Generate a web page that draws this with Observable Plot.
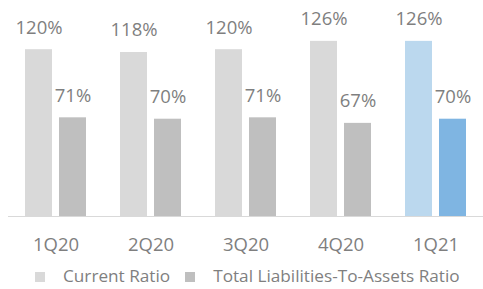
<!DOCTYPE html>
<html>
<head>
<meta charset="utf-8">
<script src="https://cdn.jsdelivr.net/npm/d3@7"></script>
<script src="https://cdn.jsdelivr.net/npm/@observablehq/plot@0.6"></script>
<style>
  html, body { margin: 0; padding: 0; background: #fff; }
  body { width: 483px; height: 289px; overflow: hidden; font-family: "Open Sans", sans-serif; }
  #chart svg { display: block; }
  #legend { display: flex; align-items: center; height: 24px; padding-top: 6px; margin-left: 35px; font-size: 17.2px; color: #7f7f7f; line-height: 24px; white-space: nowrap; }
  #legend .sw { width: 10px; height: 10px; display: inline-block; margin-top: 2px; }
</style>
</head>
<body>
<div id="chart"></div>
<div id="legend"></div>
<script>
const categories = ["1Q20", "2Q20", "3Q20", "4Q20", "1Q21"];
const seriesNames = ["Current Ratio", "Total Liabilities-To-Assets Ratio"];
const currentRatio = [120, 118, 120, 126, 126];
const liabilitiesRatio = [71, 70, 71, 67, 70];
const highlighted = "1Q21";

const colors = {
  "Current Ratio": {normal: "#d9d9d9", highlight: "#bbd8ee"},
  "Total Liabilities-To-Assets Ratio": {normal: "#bfbfbf", highlight: "#7fb5e2"}
};

const data = [];
categories.forEach((c, i) => {
  data.push({category: c, series: seriesNames[0], value: currentRatio[i]});
  data.push({category: c, series: seriesNames[1], value: liabilitiesRatio[i]});
});
const fillOf = d => colors[d.series][d.category === highlighted ? "highlight" : "normal"];

const chart = Plot.plot({
  width: 483,
  height: 258,
  marginTop: 0,
  marginLeft: 7,
  marginRight: 0,
  marginBottom: 42,
  style: {fontFamily: "Open Sans, sans-serif", fontSize: "18.5px", color: "#7f7f7f", background: "#fff"},
  fx: {domain: categories, padding: 0, axis: "bottom", tickSize: 0, tickPadding: 21, label: null},
  x: {domain: seriesNames, paddingInner: 0.206, paddingOuter: 0.5, axis: null},
  y: {domain: [0, 155.4], axis: null},
  marks: [
    Plot.barY(data, {fx: "category", x: "series", y: "value", fill: fillOf}),
    Plot.text(data, {fx: "category", x: "series", y: "value", text: d => d.value + "%", dy: -22, fill: "#7f7f7f", fontSize: 18.5}),
    Plot.ruleY([0], {stroke: "#d9d9d9", strokeWidth: 1.2})
  ]
});
document.getElementById("chart").appendChild(chart);

const legend = document.getElementById("legend");
seriesNames.forEach((s, i) => {
  const sw = document.createElement("span");
  sw.className = "sw";
  sw.style.background = colors[s].normal;
  if (i > 0) sw.style.marginLeft = "15px";
  legend.appendChild(sw);
  const t = document.createElement("span");
  t.textContent = s;
  t.style.marginLeft = "18px";
  legend.appendChild(t);
});
</script>
</body>
</html>
